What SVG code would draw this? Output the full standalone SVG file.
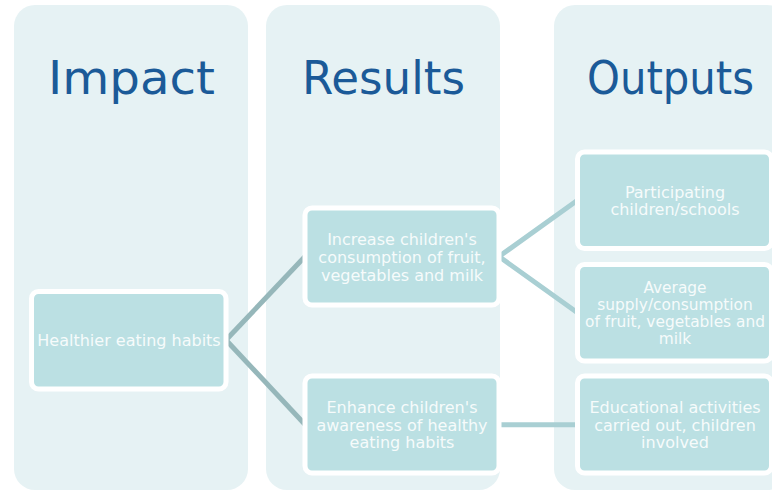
<svg xmlns="http://www.w3.org/2000/svg" width="772" height="490" viewBox="0 0 772 490">
  <style>
    .panel { fill: #e6f2f4; }
    .title { font-family: "DejaVu Sans", Verdana, sans-serif; fill: #1b5a98; text-anchor: middle; }
    .node rect { fill: #bbe0e3; stroke: #ffffff; stroke-width: 5; }
    .node text { font-family: "DejaVu Sans", Verdana, sans-serif; font-size: 16px; fill: #f6fbfb; text-anchor: middle; }
    .c1 { stroke: #96b7ba; stroke-width: 5; fill: none; }
    .c2 { stroke: #a9cfd3; stroke-width: 5; fill: none; }
  </style>
  <rect width="772" height="490" fill="#ffffff"/>
  <g id="panels">
    <rect class="panel" x="14" y="5" width="234" height="485" rx="21" ry="21"/>
    <rect class="panel" x="266" y="5" width="234" height="485" rx="21" ry="21"/>
    <rect class="panel" x="554" y="5" width="234" height="485" rx="21" ry="21"/>
    <text class="title" x="131.5" y="94" font-size="47" textLength="167" lengthAdjust="spacingAndGlyphs">Impact</text>
    <text class="title" x="383.5" y="94" font-size="46" textLength="163" lengthAdjust="spacingAndGlyphs">Results</text>
    <text class="title" x="670.5" y="94" font-size="46" textLength="167" lengthAdjust="spacingAndGlyphs">Outputs</text>
  </g>
  <g id="connectors">
    <line class="c1" x1="226" y1="340" x2="305" y2="256.5"/>
    <line class="c1" x1="226" y1="340" x2="305" y2="424.5"/>
    <polyline class="c2" points="577.5,200.3 499,256.5 577.5,312.8"/>
    <line class="c2" x1="499" y1="424.8" x2="577.5" y2="424.8"/>
  </g>
  <g id="impact" class="node">
    <rect x="31.5" y="291.5" width="194.5" height="97.5" rx="7"/>
    <text x="129" y="346">Healthier eating habits</text>
  </g>
  <g id="result-consumption" class="node">
    <rect x="305" y="208" width="194" height="97" rx="7"/>
    <text x="402" y="244.5">Increase children's</text>
    <text x="402" y="262.5">consumption of fruit,</text>
    <text x="402" y="280.5">vegetables and milk</text>
  </g>
  <g id="result-awareness" class="node">
    <rect x="305" y="376" width="194" height="97" rx="7"/>
    <text x="402" y="413">Enhance children's</text>
    <text x="402" y="430.5">awareness of healthy</text>
    <text x="402" y="448">eating habits</text>
  </g>
  <g id="output-participating" class="node">
    <rect x="577.5" y="152" width="194" height="96.6" rx="7"/>
    <text x="675" y="197.5">Participating</text>
    <text x="675" y="215.2">children/schools</text>
  </g>
  <g id="output-average" class="node">
    <rect x="577.5" y="264.5" width="194" height="96.6" rx="7"/>
    <text x="675" y="292.6" style="font-size:15.4px">Average</text>
    <text x="675" y="309.8" style="font-size:15.4px">supply/consumption</text>
    <text x="675" y="327" style="font-size:15.4px">of fruit, vegetables and</text>
    <text x="675" y="344.2" style="font-size:15.4px">milk</text>
  </g>
  <g id="output-educational" class="node">
    <rect x="577.5" y="376" width="194" height="97" rx="7"/>
    <text x="675" y="413">Educational activities</text>
    <text x="675" y="430.5">carried out, children</text>
    <text x="675" y="448">involved</text>
  </g>
</svg>
